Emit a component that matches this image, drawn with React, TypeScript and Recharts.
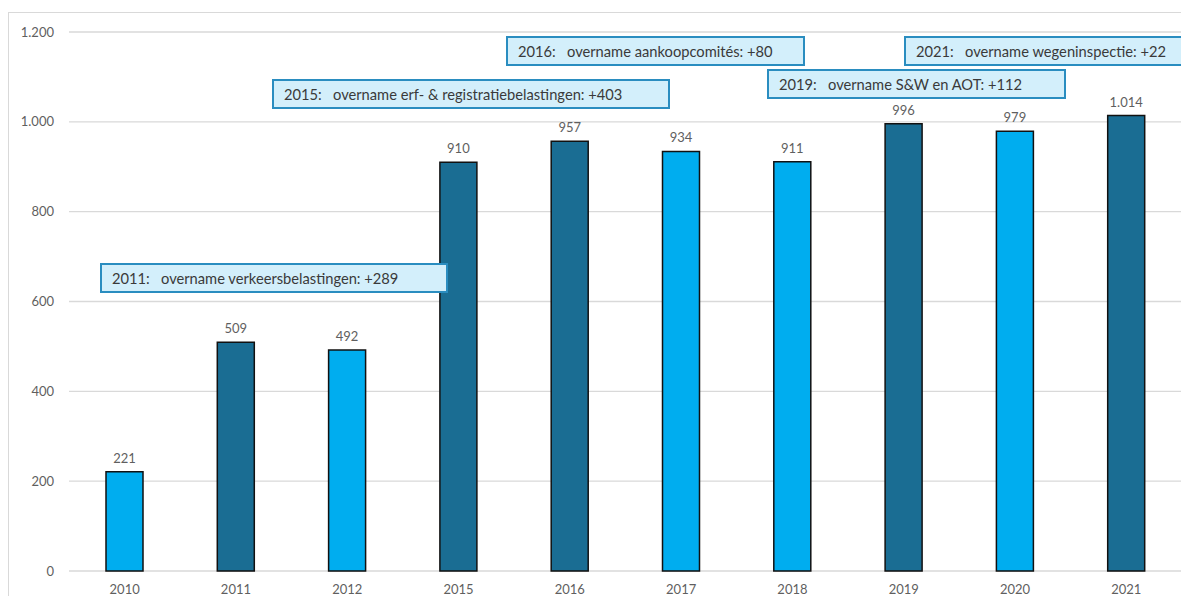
import { BarChart, Bar, XAxis, YAxis, CartesianGrid, Cell, LabelList } from "recharts";

const years = ["2010", "2011", "2012", "2015", "2016", "2017", "2018", "2019", "2020", "2021"];
const staff = [221, 509, 492, 910, 957, 934, 911, 996, 979, 1014];
const darkYears = ["2011", "2015", "2016", "2019", "2021"];
const yTicks = [0, 200, 400, 600, 800, 1000, 1200];

// annotation boxes: [text, left, top, width]
const notes: [string, number, number, number][] = [
  ["2011:   overname verkeersbelastingen: +289", 92, 255, 348],
  ["2015:   overname erf- & registratiebelastingen: +403", 264, 71, 398],
  ["2016:   overname aankoopcomités: +80", 498, 28, 299],
  ["2019:   overname S&W en AOT: +112", 759, 61, 299],
  ["2021:   overname wegeninspectie: +22", 896, 28, 320],
];

const light = "#00adef";
const dark = "#1a6d93";
const font = "Lato, 'Open Sans', sans-serif";

const fmt = (v: number) => v.toLocaleString("nl-BE");

const data = years.map((y, i) => ({ year: y, value: staff[i] }));

export default function App() {
  return (
    <div
      style={{
        position: "relative",
        width: 1181,
        height: 588,
        overflow: "hidden",
        fontFamily: font,
      }}
    >
      <div
        style={{
          position: "absolute",
          left: 0,
          top: 4,
          width: 1300,
          height: 700,
          border: "1px solid #d9d9d9",
        }}
      />
      <div style={{ position: "absolute", left: 0, top: 0 }}>
        <BarChart
          width={1181}
          height={588}
          data={data}
          margin={{ top: 24, right: 7, bottom: 3, left: 0 }}
          barSize={37}
        >
          <CartesianGrid vertical={false} stroke="#d9d9d9" strokeWidth={1.3} />
          <XAxis
            dataKey="year"
            axisLine={false}
            tickLine={false}
            height={22}
            tickMargin={8}
            tick={{ fill: "#5f5f5f", fontSize: 13, fontFamily: font }}
          />
          <YAxis
            domain={[0, 1200]}
            ticks={yTicks}
            width={61}
            axisLine={false}
            tickLine={false}
            tickMargin={9}
            tickFormatter={fmt}
            tick={{ fill: "#5f5f5f", fontSize: 13, fontFamily: font }}
          />
          <Bar dataKey="value" stroke="#111" strokeWidth={1.5} isAnimationActive={false}>
            {data.map((d) => (
              <Cell key={d.year} fill={darkYears.includes(d.year) ? dark : light} />
            ))}
            <LabelList
              dataKey="value"
              position="top"
              offset={9}
              formatter={(v: any) => fmt(Number(v))}
              style={{ fill: "#5f5f5f", fontSize: 13, fontFamily: font }}
            />
          </Bar>
        </BarChart>
      </div>
      {notes.map(([text, left, top, width]) => (
        <div
          key={text}
          style={{
            position: "absolute",
            left,
            top,
            width,
            height: 30,
            boxSizing: "border-box",
            background: "#d3effb",
            border: "2px solid #2a8dc0",
            color: "#3a3a3a",
            fontSize: 14.7,
            lineHeight: "26px",
            paddingLeft: 10,
            whiteSpace: "pre",
          }}
        >
          {text}
        </div>
      ))}
    </div>
  );
}
